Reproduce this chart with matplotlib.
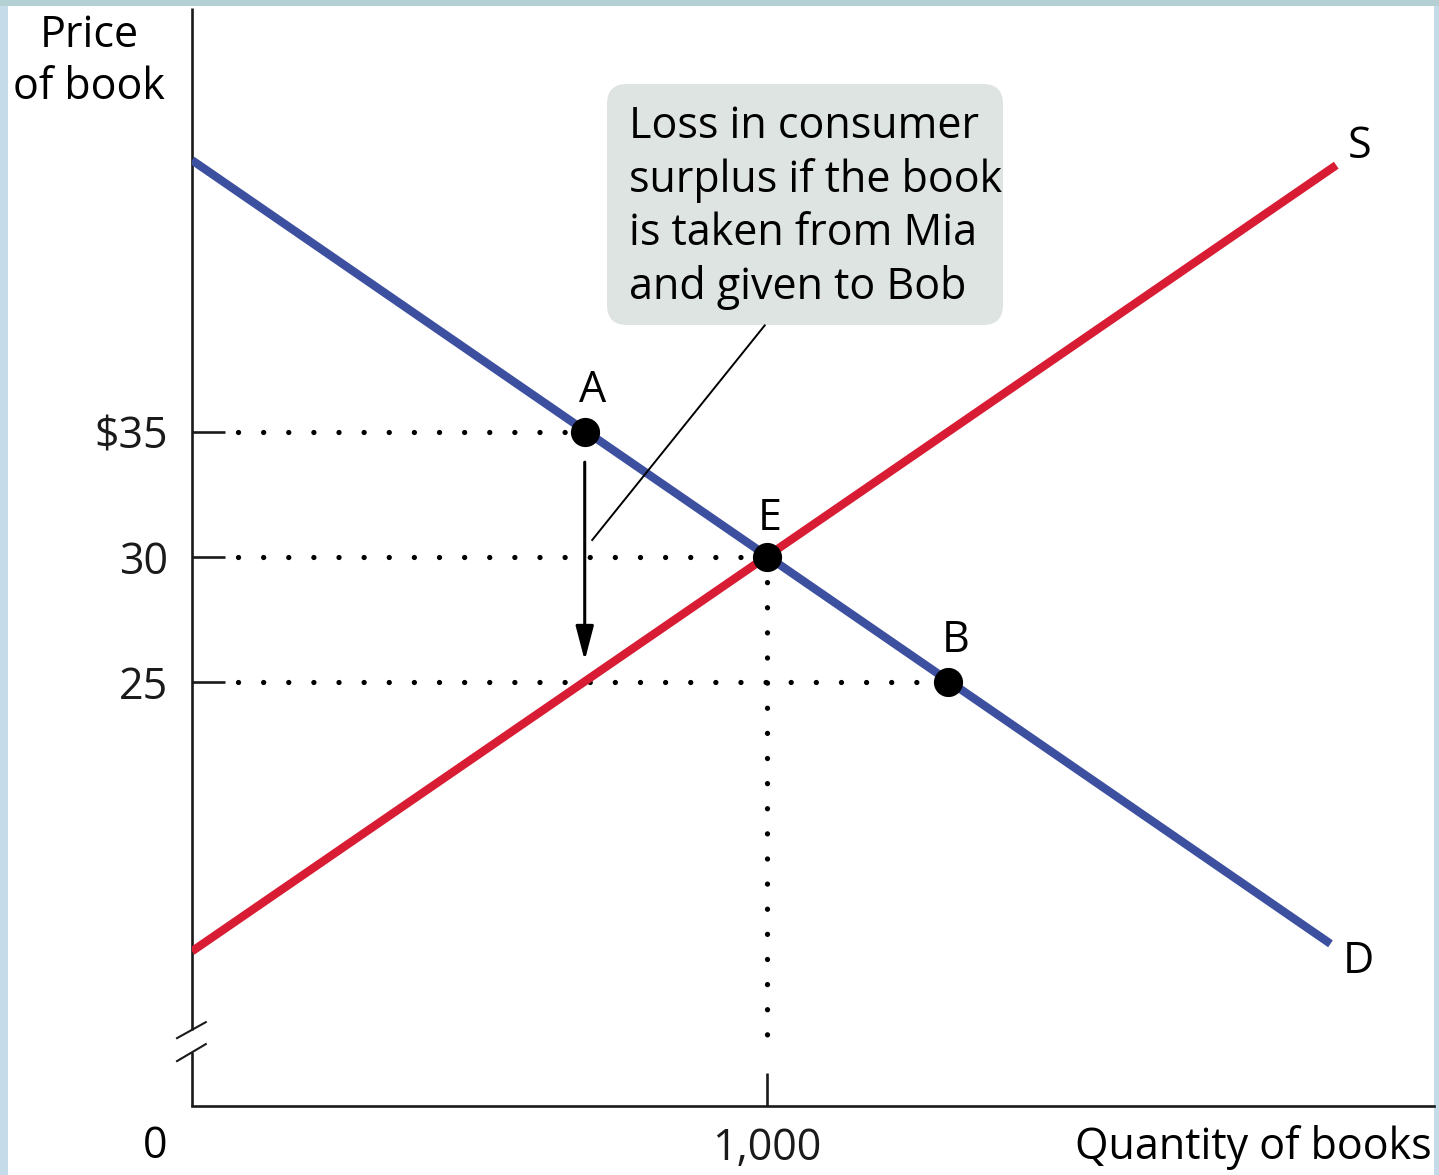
import matplotlib
matplotlib.use("Agg")
import matplotlib.pyplot as plt
from matplotlib.patches import FancyBboxPatch, Rectangle
from matplotlib.transforms import IdentityTransform

plt.rcParams['font.family'] = ['Open Sans', 'DejaVu Sans']

# ---- data ----
demand_q = [0, 1980]
demand_p = [45.9, 14.5]
supply_q = [0, 1990]
supply_p = [14.2, 45.7]
point_names = ["A", "E", "B"]
point_q = [683, 1000, 1315]
point_p = [35, 30, 25]
ytick_vals = [25, 30, 35]
ytick_labels = ["25", "30", "$35"]
xtick_vals = [1000]
xtick_labels = ["1,000"]
callout_text = "Loss in consumer\nsurplus if the book\nis taken from Mia\nand given to Bob"

W, H = 1439, 1175
fig = plt.figure(figsize=(W / 100, H / 100), dpi=100)
fig.patch.set_facecolor("#c6dbea")
fig.patches.append(Rectangle((0, (H - 6) / H), 1, 6 / H, transform=fig.transFigure,
                             facecolor="#b4d0d2", edgecolor="none", zorder=-6))
fig.patches.append(Rectangle((8 / W, 0), (1434 - 8) / W, (H - 6) / H,
                             transform=fig.transFigure, facecolor="white",
                             edgecolor="none", zorder=-5))

ax = fig.add_axes([192 / W, (H - 1106) / H, (1434 - 192) / W, (1106 - 8) / H])
ax.set_facecolor("none")
ax.set_zorder(2)
ax.set_xlim(0, 2160)
ax.set_ylim(8, 52)

axcol = "#1a1a1a"
for s in ["top", "right", "left"]:
    ax.spines[s].set_visible(False)
ax.spines["bottom"].set_linewidth(1.9)
ax.spines["bottom"].set_color(axcol)

# left axis with break
ax.plot([0, 0], [52, 11.04], color=axcol, lw=1.9, clip_on=False, solid_capstyle="butt")
ax.plot([0, 0], [10.16, 8], color=axcol, lw=1.9, clip_on=False, solid_capstyle="butt")
ax.plot([-26, 24], [10.72, 11.36], color=axcol, lw=1.5, clip_on=False)
ax.plot([-26, 24], [9.80, 10.48], color=axcol, lw=1.5, clip_on=False)

fs = 31
ax.set_yticks(ytick_vals)
ax.set_yticklabels(ytick_labels, fontsize=fs)
ax.set_xticks(xtick_vals)
ax.set_xticklabels(xtick_labels, fontsize=fs)
ax.tick_params(axis="y", direction="in", length=24, width=1.9, pad=17, colors=axcol)
ax.tick_params(axis="x", direction="in", length=24, width=1.9, pad=15, colors=axcol)

# dotted guide lines
dot = dict(color="black", lw=3.8, ls=(0, (0.01, 4.75)), dash_capstyle="round", zorder=2)
for q, p in zip(point_q, point_p):
    ax.plot([80, q], [p, p], **dot)
ax.plot([point_q[1], point_q[1]], [point_p[1], 10.0], **dot)

# curves
ax.plot(demand_q, demand_p, color="#3d50a0", lw=6.0, solid_capstyle="butt", zorder=3)
ax.plot(supply_q, supply_p, color="#d81c33", lw=6.0, solid_capstyle="butt", zorder=3)

# points
ax.plot(point_q, point_p, "o", color="black", ms=20, zorder=5)
label_off = {"A": (14, 1.65), "E": (5, 1.55), "B": (14, 1.65)}
for n, q, p in zip(point_names, point_q, point_p):
    dx, dy = label_off[n]
    ax.text(q + dx, p + dy, n, fontsize=fs, ha="center", va="center")

ax.text(2030, 46.45, "S", fontsize=fs, ha="center", va="center")
ax.text(2028, 13.8, "D", fontsize=fs, ha="center", va="center")

# arrow from A down to supply curve
ax.annotate("", xy=(point_q[0], 25.85), xytext=(point_q[0], 33.8),
            arrowprops=dict(arrowstyle="-|>,head_length=2.1,head_width=0.55",
                            color="black", lw=2.2, shrinkA=0, shrinkB=0), zorder=4)

# callout leader
ax.plot([696, 996], [30.68, 39.28], color="black", lw=1.4, zorder=4)

# callout box (pixel coordinates, origin bottom-left)
box = FancyBboxPatch((607 + 20, H - 325 + 20), 396 - 40, 241 - 40,
                     boxstyle="round,pad=20,rounding_size=20",
                     transform=IdentityTransform(), facecolor="#dde4e2",
                     edgecolor="none", zorder=1)
fig.patches.append(box)
fig.text(629 / W, 1 - 105 / H, callout_text, fontsize=fs, ha="left", va="top",
         linespacing=1.255, zorder=3)

# axis titles
fig.text(89 / W, 1 - 62 / H, "Price\nof book", fontsize=fs, ha="center", va="center",
         linespacing=1.22)
fig.text(155 / W, 1 - 1147 / H, "0", fontsize=fs, ha="center", va="center")
fig.text(1432 / W, 1 - 1147 / H, "Quantity of books", fontsize=fs, ha="right", va="center")

fig.savefig("out.png", dpi=100, facecolor=fig.get_facecolor())
